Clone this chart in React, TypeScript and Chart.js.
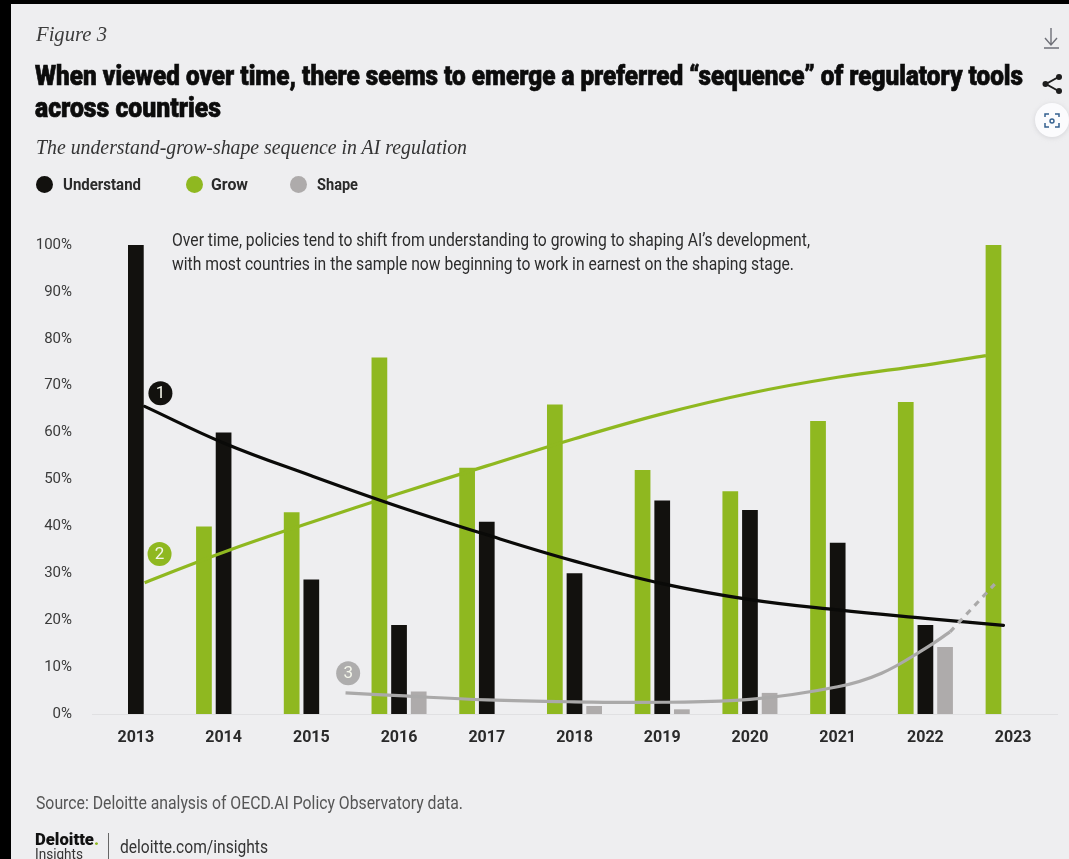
import React, { useEffect, useLayoutEffect, useRef } from "react";
import { Chart, registerables } from "chart.js";

Chart.register(...registerables);

const years = [2013, 2014, 2015, 2016, 2017, 2018, 2019, 2020, 2021, 2022, 2023];
const understand = [100, 60, 28.7, 19, 41, 30, 45.5, 43.5, 36.5, 19, null];
const grow = [null, 40, 43, 76, 52.5, 66, 52, 47.5, 62.5, 66.5, 100];
const shape = [null, null, null, 4.8, null, 1.7, 1, 4.5, null, 14.3, null];

const understandTrendX = [2013.1, 2014, 2015, 2016, 2017, 2018, 2019, 2020, 2021, 2022, 2022.89];
const understandTrendY = [65.6, 57.8, 50.8, 44.2, 38.2, 32.6, 27.8, 24.4, 22.2, 20.4, 18.9];
const growTrendX = [2013.1, 2014, 2015, 2016, 2017, 2018, 2019, 2020, 2021, 2022, 2022.69];
const growTrendY = [28, 34.5, 40.9, 47, 52.9, 58.7, 64, 68.4, 71.8, 74.4, 76.4];
const shapeTrendX = [2015.39, 2016, 2017, 2018, 2019, 2020, 2021, 2021.5, 2022, 2022.28];
const shapeTrendY = [4.5, 3.9, 3, 2.6, 2.5, 3.1, 5.8, 8.7, 14, 17.5];
const shapeDashX = [2022.28, 2022.79];
const shapeDashY = [17.5, 27.7];

const badgeX = [2013.28, 2013.27, 2015.42];
const badgeY = [68.4, 34.1, 8.7];
const badgeText = ["1", "2", "3"];

const BLACK = "#12110e";
const GREEN = "#8fb820";
const GREY = "#aeabab";

const zip = (xs: number[], ys: (number | null)[]) => xs.map((x, i) => ({ x, y: ys[i] }));

const badgeLabels = {
  id: "badgeLabels",
  afterDatasetsDraw(chart: any) {
    const { ctx } = chart;
    const xs = chart.scales.x;
    const ys = chart.scales.y;
    ctx.save();
    ctx.font = '400 17px "Roboto", sans-serif';
    ctx.fillStyle = "#f4f6ea";
    ctx.textAlign = "center";
    ctx.textBaseline = "middle";
    badgeText.forEach((t, i) => {
      ctx.fillText(t, xs.getPixelForValue(badgeX[i]), ys.getPixelForValue(badgeY[i]) + 1);
    });
    ctx.restore();
  },
};

function Fit(props: { x: number; y: number; w: number; style: React.CSSProperties; children: React.ReactNode }) {
  const ref = useRef<HTMLDivElement>(null);
  useLayoutEffect(() => {
    const el = ref.current!;
    el.style.transform = "none";
    const natural = el.getBoundingClientRect().width;
    el.style.transform = `scaleX(${props.w / natural})`;
  }, [props.w]);
  return (
    <div
      ref={ref}
      style={{
        position: "absolute",
        left: props.x,
        top: props.y,
        whiteSpace: "nowrap",
        transformOrigin: "left center",
        lineHeight: 1,
        ...props.style,
      }}
    >
      {props.children}
    </div>
  );
}

const dot = (x: number, color: string) => (
  <div
    style={{
      position: "absolute",
      left: x - 8.5,
      top: 175.5,
      width: 17,
      height: 17,
      borderRadius: "50%",
      background: color,
    }}
  />
);

export default function App() {
  const canvasRef = useRef<HTMLCanvasElement>(null);

  useEffect(() => {
    const chart = new Chart(canvasRef.current!, {
      type: "bar",
      plugins: [badgeLabels],
      data: {
        datasets: [
          { label: "Grow", data: zip(years, grow), backgroundColor: GREEN, order: 10 },
          { label: "Understand", data: zip(years, understand), backgroundColor: BLACK, order: 10 },
          { label: "Shape", data: zip(years, shape), backgroundColor: GREY, order: 10 },
          {
            type: "line",
            label: "Understand trend",
            data: zip(understandTrendX, understandTrendY),
            borderColor: "#0a0a08",
            borderWidth: 3.2,
            borderCapStyle: "round",
            pointRadius: 0,
            tension: 0.4,
            order: 4,
          },
          {
            type: "line",
            label: "Grow trend",
            data: zip(growTrendX, growTrendY),
            borderColor: GREEN,
            borderWidth: 3.2,
            pointRadius: 0,
            tension: 0.4,
            order: 5,
          },
          {
            type: "line",
            label: "Shape trend",
            data: zip(shapeTrendX, shapeTrendY),
            borderColor: "#aaa9a9",
            borderWidth: 3.2,
            pointRadius: 0,
            tension: 0.4,
            order: 3,
          },
          {
            type: "line",
            label: "Shape projection",
            data: zip(shapeDashX, shapeDashY),
            borderColor: "#aaa9a9",
            borderWidth: 3.2,
            borderDash: [6, 6],
            pointRadius: 0,
            order: 3,
          },
          {
            type: "scatter",
            label: "Steps",
            data: zip(badgeX, badgeY),
            backgroundColor: [BLACK, GREEN, "#aeadad"],
            borderWidth: 0,
            pointRadius: 12,
            order: 1,
          },
        ],
      } as any,
      options: {
        animation: false,
        responsive: false,
        layout: { padding: { top: 245, left: 0, right: 1, bottom: 0 } },
        datasets: { bar: { categoryPercentage: 0.672, barPercentage: 0.8 } },
        plugins: { legend: { display: false }, tooltip: { enabled: false } },
        scales: {
          x: {
            type: "linear",
            offset: false,
            min: 2012.5,
            max: 2023.5,
            grid: { display: false },
            border: { display: true, color: "#e0e0e2", width: 1 },
            afterBuildTicks: (s: any) => {
              s.ticks = years.map((value) => ({ value }));
            },
            ticks: {
              color: "#2a2a2a",
              padding: 6,
              maxRotation: 0,
              autoSkip: false,
              font: { family: "Roboto, sans-serif", size: 16, weight: "bold" },
              callback: (v: any) => String(v),
            },
            afterFit: (s: any) => {
              s.height = 145;
            },
          },
          y: {
            min: 0,
            max: 100,
            grid: { display: false },
            border: { display: false },
            ticks: {
              stepSize: 10,
              color: "#3a3a3a",
              padding: 12,
              font: { family: "Roboto, sans-serif", size: 15 },
              callback: (v: any) => `${v}%`,
            },
            afterFit: (s: any) => {
              s.width = 92;
            },
          },
        },
      } as any,
    });
    return () => chart.destroy();
  }, []);

  const sans = '"Roboto", sans-serif';
  const serif = '"Liberation Serif", serif';
  const heavy = { fontFamily: sans, fontWeight: 900, fontSize: 28, color: "#0c0c0c", WebkitTextStroke: "0.7px #0c0c0c" } as React.CSSProperties;
  const legend = { fontFamily: sans, fontWeight: 700, fontSize: 17, color: "#2a2a2a" } as React.CSSProperties;
  const note = { fontFamily: sans, fontSize: 19, color: "#2c2c2c" } as React.CSSProperties;

  return (
    <div style={{ position: "absolute", left: 0, top: 0, width: 1069, height: 859, overflow: "hidden", background: "#000" }}>
      <div style={{ position: "absolute", left: 11, top: 4, right: 0, bottom: 0, background: "#eeeef0" }} />
      <canvas ref={canvasRef} width={1069} height={859} style={{ position: "absolute", left: 0, top: 0, display: "block" }} />

      <Fit x={36} y={23} w={71} style={{ fontFamily: serif, fontStyle: "italic", fontSize: 22, color: "#3c3c3c" }}>Figure 3</Fit>
      <Fit x={35} y={62} w={988} style={heavy}>
        When viewed over time, there seems to emerge a preferred “sequence” of regulatory tools
      </Fit>
      <Fit x={35} y={94} w={186} style={heavy}>across countries</Fit>
      <Fit x={36} y={136} w={431} style={{ fontFamily: serif, fontStyle: "italic", fontSize: 22, color: "#333" }}>
        The understand-grow-shape sequence in AI regulation
      </Fit>

      {dot(44, BLACK)}
      <Fit x={63} y={176} w={78} style={legend}>Understand</Fit>
      {dot(194, GREEN)}
      <Fit x={211} y={176} w={37} style={legend}>Grow</Fit>
      {dot(298, GREY)}
      <Fit x={317} y={176} w={41} style={legend}>Shape</Fit>

      <Fit x={172} y={230} w={638} style={note}>
        Over time, policies tend to shift from understanding to growing to shaping AI’s development,
      </Fit>
      <Fit x={172} y={254} w={622} style={note}>
        with most countries in the sample now beginning to work in earnest on the shaping stage.
      </Fit>

      <Fit x={36} y={795} w={427} style={{ fontFamily: sans, fontSize: 17.5, color: "#555" }}>
        Source: Deloitte analysis of OECD.AI Policy Observatory data.
      </Fit>
      <Fit x={35} y={832} w={64} style={{ fontFamily: sans, fontWeight: 900, fontSize: 16, color: "#111" }}>
        Deloitte<span style={{ color: GREEN }}>.</span>
      </Fit>
      <Fit x={35} y={847} w={48} style={{ fontFamily: sans, fontSize: 15, color: "#333" }}>Insights</Fit>
      <div style={{ position: "absolute", left: 108, top: 833, width: 1, height: 26, background: "#666" }} />
      <Fit x={120} y={838} w={148} style={{ fontFamily: sans, fontSize: 18, color: "#333" }}>deloitte.com/insights</Fit>

      <svg width={1069} height={859} style={{ position: "absolute", left: 0, top: 0, pointerEvents: "none" }}>
        <path d="M1051 28 V44 M1045 38 L1051 45 L1057 38 M1044 48 H1059" fill="none" stroke="#6f7078" strokeWidth={1.4} />
        <path d="M1058.5 77 L1046 84 L1058.5 91" fill="none" stroke="#1d1d1d" strokeWidth={2} />
        <circle cx={1059} cy={77} r={3} fill="#1d1d1d" />
        <circle cx={1045.5} cy={84} r={3} fill="#1d1d1d" />
        <circle cx={1059} cy={91} r={3} fill="#1d1d1d" />
        <defs>
          <filter id="soft" x="-40%" y="-40%" width="180%" height="180%">
            <feGaussianBlur stdDeviation="2" />
          </filter>
        </defs>
        <circle cx={1052} cy={121} r={17.5} fill="#d8d8dc" filter="url(#soft)" />
        <circle cx={1052} cy={120} r={17} fill="#fbfbfd" />
        <path
          d="M1045 117 V114 H1049 M1055 114 H1059 V117 M1059 123 V127 H1055 M1049 127 H1045 V123"
          fill="none"
          stroke="#34608f"
          strokeWidth={1.5}
        />
        <circle cx={1052} cy={121} r={2} fill="none" stroke="#34608f" strokeWidth={1.4} />
      </svg>
    </div>
  );
}
